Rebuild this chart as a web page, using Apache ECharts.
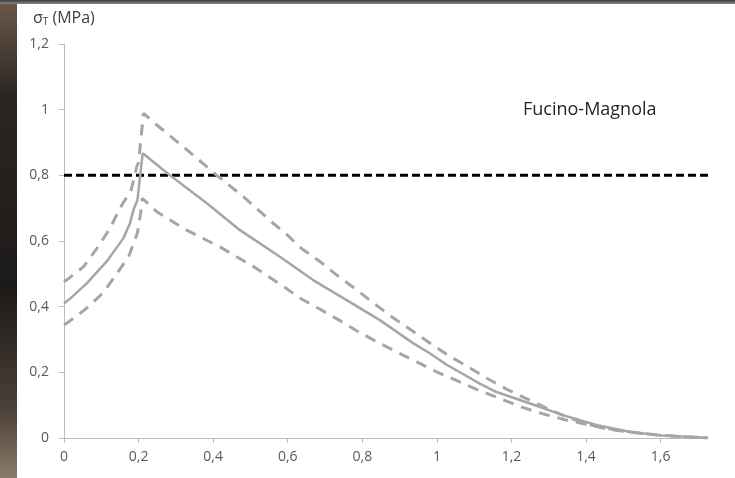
<!DOCTYPE html>
<html>
<head>
<meta charset="utf-8">
<script src="https://cdn.jsdelivr.net/npm/echarts@6/dist/echarts.min.js"></script>
<style>
html,body{margin:0;padding:0;background:#fff;}
#strip{position:absolute;left:0;top:0;width:17px;height:478px;background:linear-gradient(180deg,#6b5a4a 0%,#2b2623 20%,#1c1a19 60%,#4a3f36 85%,#8a7a6a 100%);}
#topbar{position:absolute;left:0;top:0;width:735px;height:4px;background:linear-gradient(180deg,#3a3a3a,#8a8a8a);}
#chart{position:absolute;left:0;top:0;width:735px;height:478px;}
</style>
</head>
<body>
<div id="strip"></div>
<div id="topbar"></div>
<div id="chart"></div>
<script>
// ---- data ----
const meanCurve = [[0,0.41],[0.012,0.42],[0.061,0.471],[0.114,0.537],[0.159,0.608],[0.177,0.654],[0.186,0.694],[0.197,0.725],[0.211,0.867],[0.284,0.80],[0.383,0.715],[0.472,0.633],[0.579,0.552],[0.668,0.481],[0.758,0.42],[0.847,0.359],[0.936,0.289],[0.981,0.258],[1.026,0.223],[1.07,0.195],[1.116,0.165],[1.16,0.14],[1.25,0.105],[1.34,0.069],[1.43,0.039],[1.52,0.018],[1.6,0.008],[1.727,0]];
const upperCurve = [[0,0.476],[0.007,0.481],[0.052,0.521],[0.088,0.577],[0.123,0.638],[0.15,0.70],[0.18,0.755],[0.195,0.826],[0.2,0.84],[0.213,0.989],[0.244,0.958],[0.32,0.887],[0.41,0.80],[0.481,0.735],[0.561,0.654],[0.6,0.617],[0.637,0.577],[0.687,0.537],[0.735,0.493],[0.783,0.453],[0.831,0.41],[0.879,0.369],[0.928,0.331],[0.976,0.293],[1.026,0.255],[1.08,0.219],[1.134,0.182],[1.188,0.148],[1.24,0.12],[1.296,0.09],[1.35,0.063],[1.405,0.042],[1.46,0.028],[1.52,0.018],[1.6,0.008],[1.727,0]];
const lowerCurve = [[0,0.345],[0.007,0.349],[0.056,0.391],[0.105,0.442],[0.141,0.499],[0.174,0.554],[0.197,0.625],[0.206,0.689],[0.21,0.73],[0.249,0.689],[0.329,0.633],[0.418,0.582],[0.508,0.522],[0.597,0.455],[0.628,0.429],[0.682,0.395],[0.733,0.362],[0.786,0.326],[0.839,0.293],[0.892,0.262],[0.946,0.232],[1.0,0.201],[1.057,0.173],[1.113,0.145],[1.167,0.121],[1.225,0.095],[1.28,0.075],[1.346,0.055],[1.4,0.042],[1.46,0.027],[1.52,0.018],[1.6,0.008],[1.727,0]];
const thresholdValue = 0.8;
const xMax = 1.727;
const xTicks = [0,0.2,0.4,0.6,0.8,1,1.2,1.4,1.6];
const yLabel = 'σ';
const ySub = 'T';
const yUnit = ' (MPa)';
const siteName = 'Fucino-Magnola';

const fmt = v => String(Math.round(v*10)/10).replace('.', ',');
const FONT = '"Open Sans", "Liberation Sans", sans-serif';
const chart = echarts.init(document.getElementById('chart'));
chart.setOption({
  animation: false,
  grid: {left: 64, right: 27, top: 44, bottom: 40},
  xAxis: {
    type: 'value', min: 0, max: xMax,
    axisLine: {show: true, lineStyle: {color: '#bcbcbc', width: 1}},
    axisTick: {show: true, length: 5, lineStyle: {color: '#bcbcbc'}, customValues: xTicks},
    axisLabel: {customValues: xTicks, formatter: fmt, color: '#595959', fontSize: 14, fontFamily: FONT, margin: 12},
    splitLine: {show: false}
  },
  yAxis: {
    type: 'value', min: 0, max: 1.2, interval: 0.2,
    axisLine: {show: true, lineStyle: {color: '#bcbcbc', width: 1}},
    axisTick: {show: true, length: 5, lineStyle: {color: '#bcbcbc'}},
    axisLabel: {formatter: fmt, color: '#595959', fontSize: 14, fontFamily: FONT, margin: 15},
    splitLine: {show: false}
  },
  graphic: [
    {type: 'text', left: 33, top: 10, style: {
      text: '{a|' + yLabel + '}{b|' + ySub + '}{a|' + yUnit + '}',
      rich: {
        a: {fontSize: 16, fontFamily: FONT, fill: '#404040'},
        b: {fontSize: 10, fontFamily: FONT, fill: '#404040', padding: [9,0,0,0]}
      }
    }},
    {type: 'text', left: 523, top: 101, style: {text: siteName, fontSize: 18, fontFamily: FONT, fill: '#262626'}}
  ],
  series: [
    {type: 'line', data: [[0, thresholdValue],[xMax, thresholdValue]], symbol: 'none', z: 1,
      lineStyle: {color: '#000', width: 3, type: [8,4]}},
    {type: 'line', data: upperCurve, symbol: 'none', z: 2,
      lineStyle: {color: '#a6a6a6', width: 3, type: [11,8]}},
    {type: 'line', data: lowerCurve, symbol: 'none', z: 2,
      lineStyle: {color: '#a6a6a6', width: 3, type: [11,8]}},
    {type: 'line', data: meanCurve, symbol: 'none', z: 3,
      lineStyle: {color: '#a6a6a6', width: 2.5}}
  ]
});
</script>
</body>
</html>
